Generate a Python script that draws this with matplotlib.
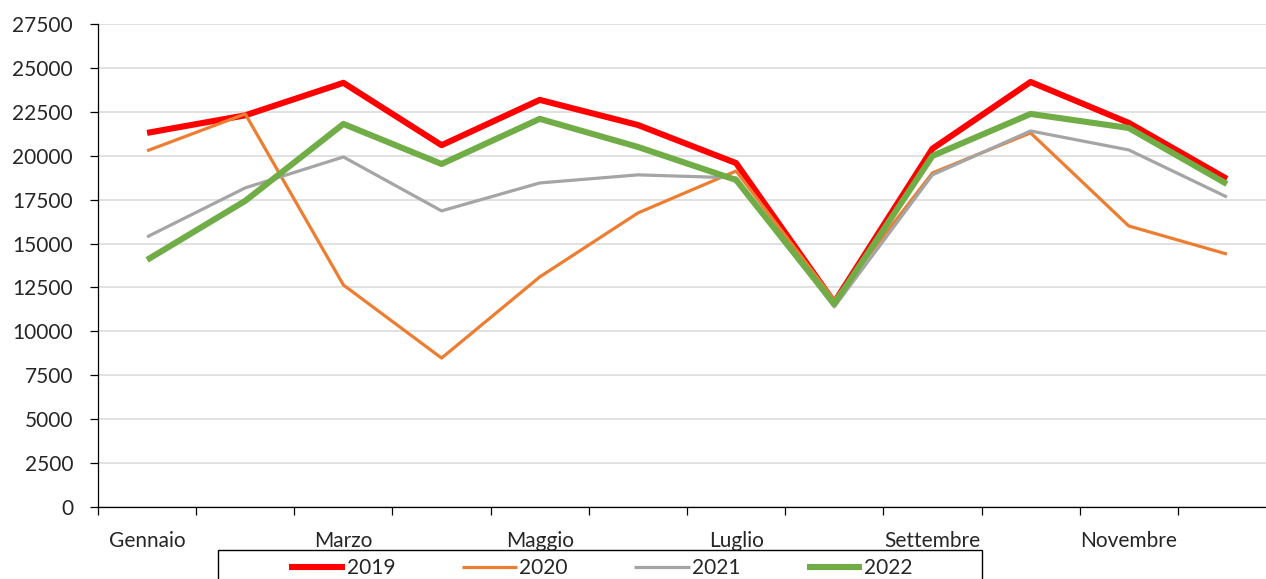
import numpy as np
import matplotlib.pyplot as plt
from matplotlib.patches import Rectangle

mesi = ['Gennaio', 'Febbraio', 'Marzo', 'Aprile', 'Maggio', 'Giugno',
        'Luglio', 'Agosto', 'Settembre', 'Ottobre', 'Novembre', 'Dicembre']

v2019 = [21300, 22300, 24150, 20600, 23180, 21750, 19580, 11650, 20400, 24200, 21870, 18680]
v2020 = [20280, 22380, 12640, 8480, 13100, 16740, 19130, 11800, 19020, 21300, 16000, 14400]
v2021 = [15380, 18170, 19930, 16860, 18450, 18910, 18740, 11390, 18910, 21410, 20330, 17650]
v2022 = [14070, 17430, 21810, 19530, 22100, 20500, 18620, 11560, 19990, 22380, 21580, 18390]

anni = ['2019', '2020', '2021', '2022']
colori = ['#ff0000', '#ed7d31', '#a5a5a5', '#70ad47']
spessori = [4.4, 2.3, 2.3, 4.4]

plt.rcParams['font.family'] = ['Lato', 'DejaVu Sans']
testo = '#262626'

fig = plt.figure(figsize=(12.66, 5.79), dpi=100)
# plot area runs slightly past the right edge, as in the cropped original
ax = fig.add_axes([98/1266, 1-507/579, (1276-98)/1266, (507-24)/579])

x = np.arange(len(mesi))
for serie, nome, c, lw in zip([v2019, v2020, v2021, v2022], anni, colori, spessori):
    ax.plot(x, serie, color=c, lw=lw, label=nome, solid_capstyle='butt', zorder=3)

ax.set_xlim(-0.5, len(mesi)-0.5)
ax.set_ylim(0, 27500)
ax.set_yticks(np.arange(0, 27501, 2500))
ax.yaxis.grid(True, color='#d9d9d9', lw=1.1)
ax.set_axisbelow(True)

# tick marks at category boundaries, labels every other month
ax.set_xticks(np.arange(-0.5, len(mesi), 1))
ax.set_xticklabels([])
ax.set_xticks(x[::2], minor=True)
ax.set_xticklabels(mesi[::2], minor=True)
ax.tick_params(axis='x', which='major', length=6, width=0.9, color='#000000')
ax.tick_params(axis='x', which='minor', length=0, pad=17, labelsize=15, labelcolor=testo)
ax.tick_params(axis='y', length=6, width=0.9, pad=12, labelsize=15, labelcolor=testo)

for s in ['top', 'right']:
    ax.spines[s].set_visible(False)
for s in ['left', 'bottom']:
    ax.spines[s].set_color('#000000')
    ax.spines[s].set_linewidth(0.9)

fig.patches.append(Rectangle((218/1266, -0.05), (982-218)/1266, 0.05+(579-550)/579,
                             transform=fig.transFigure, fill=False,
                             edgecolor='#000000', lw=1.0))
ax.legend(loc='upper left', bbox_to_anchor=(279/1266, 1-548/579),
          bbox_transform=fig.transFigure, ncol=4, frameon=False,
          fontsize=15, handlelength=2.65, handletextpad=0.1,
          columnspacing=3.2, borderpad=0, labelcolor=testo)

fig.savefig('out.png', dpi=100)
